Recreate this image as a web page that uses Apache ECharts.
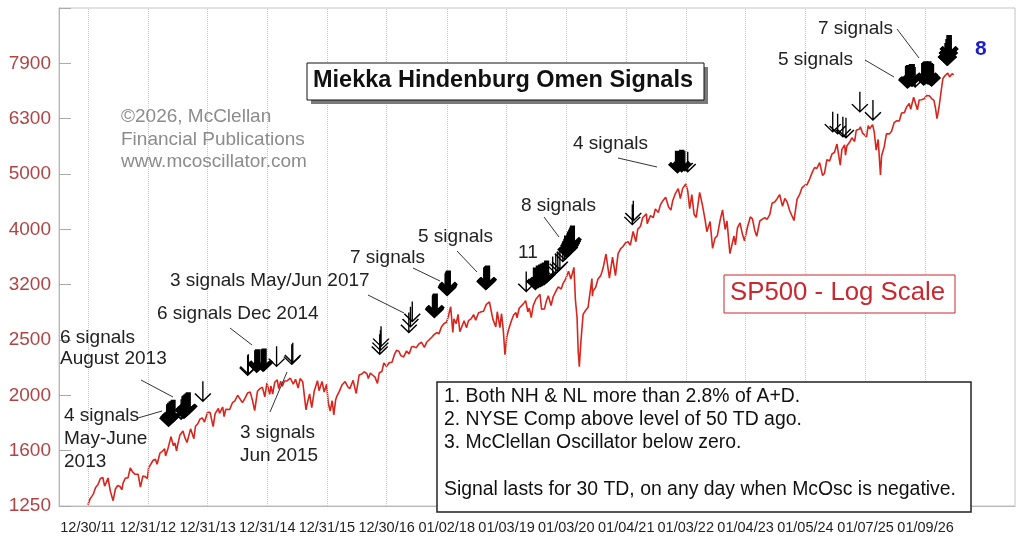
<!DOCTYPE html>
<html>
<head>
<meta charset="utf-8">
<script src="https://cdn.jsdelivr.net/npm/echarts@6/dist/echarts.min.js"></script>
<style>
html,body{margin:0;padding:0;background:#fff;}
#chart{width:1024px;height:539px;}
</style>
</head>
<body>
<div id="chart"></div>
<script>
// x axis label dates and texts
var axisDates = ['2011-12-30','2012-12-31','2013-12-31','2014-12-31','2015-12-31','2016-12-30','2018-01-02','2019-01-03',
	'2020-01-03','2021-01-04','2022-01-03','2023-01-04','2024-01-05','2025-01-07','2026-01-09'];
var axisLabels = ['12/30/11','12/31/12','12/31/13','12/31/14','12/31/15','12/30/16','01/02/18','01/03/19',
	'01/03/20','01/04/21','01/03/22','01/04/23','01/05/24','01/07/25','01/09/26'];
// log scale ticks, each one a third of an octave above the last
var yTickLabels = ['1250','1600','2000','2500','3200','4000','5000','6300','7900'];

// SP500
var spxDates = [
	'2011-12-30','2012-01-13','2012-01-31','2012-02-15','2012-02-29','2012-03-15','2012-03-30','2012-04-10','2012-04-20','2012-05-01',
	'2012-05-15','2012-06-01','2012-06-15','2012-06-29','2012-07-13','2012-07-25','2012-08-01','2012-08-15','2012-08-31','2012-09-14',
	'2012-09-28','2012-10-12','2012-10-19','2012-11-01','2012-11-15','2012-11-30','2012-12-14','2012-12-28','2013-01-04','2013-01-15',
	'2013-02-01','2013-02-15','2013-02-25','2013-03-15','2013-03-28','2013-04-12','2013-04-18','2013-05-01','2013-05-21','2013-06-05',
	'2013-06-14','2013-06-24','2013-07-01','2013-07-15','2013-08-02','2013-08-15','2013-08-27','2013-09-18','2013-10-08','2013-10-18',
	'2013-11-01','2013-11-15','2013-11-29','2013-12-12','2013-12-31','2014-01-15','2014-02-03','2014-02-15','2014-03-07','2014-03-14',
	'2014-04-02','2014-04-11','2014-04-21','2014-05-01','2014-05-15','2014-06-01','2014-06-15','2014-07-03','2014-07-15','2014-08-01',
	'2014-08-07','2014-08-15','2014-09-01','2014-09-18','2014-10-01','2014-10-15','2014-11-01','2014-11-15','2014-12-01','2014-12-16',
	'2014-12-29','2015-01-15','2015-01-22','2015-02-02','2015-02-15','2015-03-02','2015-03-11','2015-03-23','2015-04-01','2015-04-15',
	'2015-05-01','2015-05-21','2015-06-08','2015-06-22','2015-07-08','2015-07-20','2015-08-05','2015-08-17','2015-08-25','2015-09-01',
	'2015-09-16','2015-09-29','2015-10-15','2015-11-03','2015-11-13','2015-12-01','2015-12-14','2015-12-29','2016-01-08','2016-01-20',
	'2016-02-01','2016-02-11','2016-02-22','2016-03-01','2016-03-15','2016-04-01','2016-04-20','2016-05-06','2016-05-19','2016-06-08',
	'2016-06-27','2016-07-15','2016-08-01','2016-08-15','2016-09-01','2016-09-09','2016-09-22','2016-10-05','2016-10-20','2016-11-04',
	'2016-11-15','2016-12-01','2016-12-13','2016-12-30','2017-01-15','2017-02-01','2017-02-15','2017-03-01','2017-03-15','2017-03-27',
	'2017-04-13','2017-05-01','2017-05-17','2017-06-01','2017-06-15','2017-06-29','2017-07-15','2017-08-01','2017-08-18','2017-09-01',
	'2017-09-15','2017-10-02','2017-10-16','2017-11-01','2017-11-15','2017-12-01','2017-12-15','2018-01-02','2018-01-15','2018-01-26',
	'2018-02-08','2018-02-15','2018-03-01','2018-03-12','2018-03-23','2018-04-02','2018-04-18','2018-05-03','2018-05-15','2018-06-01',
	'2018-06-15','2018-06-28','2018-07-15','2018-08-01','2018-08-15','2018-09-01','2018-09-20','2018-10-01','2018-10-11','2018-10-29',
	'2018-11-07','2018-11-23','2018-12-03','2018-12-14','2018-12-24','2019-01-04','2019-01-15','2019-02-01','2019-02-15','2019-03-01',
	'2019-03-08','2019-03-21','2019-04-01','2019-04-15','2019-04-30','2019-05-13','2019-05-22','2019-06-03','2019-06-15','2019-07-01',
	'2019-07-26','2019-08-05','2019-08-15','2019-08-23','2019-09-01','2019-09-15','2019-10-02','2019-10-15','2019-11-01','2019-11-15',
	'2019-12-03','2019-12-15','2019-12-31','2020-01-17','2020-01-31','2020-02-19','2020-02-28','2020-03-09','2020-03-16','2020-03-23',
	'2020-04-01','2020-04-15','2020-05-01','2020-05-15','2020-06-08','2020-06-11','2020-06-15','2020-07-01','2020-07-15','2020-08-01',
	'2020-08-15','2020-09-02','2020-09-23','2020-10-12','2020-10-30','2020-11-15','2020-12-01','2020-12-15','2021-01-01','2021-01-15',
	'2021-01-29','2021-02-15','2021-03-04','2021-03-15','2021-04-01','2021-04-15','2021-05-07','2021-05-12','2021-06-01','2021-06-18',
	'2021-07-01','2021-07-19','2021-08-01','2021-08-15','2021-09-02','2021-09-20','2021-10-04','2021-10-15','2021-11-01','2021-11-18',
	'2021-12-01','2021-12-15','2022-01-03','2022-01-15','2022-01-27','2022-02-09','2022-02-23','2022-03-08','2022-03-29','2022-04-15',
	'2022-05-01','2022-05-12','2022-05-20','2022-06-01','2022-06-16','2022-07-01','2022-07-15','2022-08-01','2022-08-16','2022-09-01',
	'2022-09-12','2022-09-30','2022-10-12','2022-10-25','2022-11-03','2022-11-15','2022-12-01','2022-12-15','2022-12-28','2023-01-15',
	'2023-02-02','2023-02-15','2023-03-01','2023-03-13','2023-04-01','2023-04-15','2023-05-01','2023-05-15','2023-06-01','2023-06-15',
	'2023-07-01','2023-07-15','2023-07-31','2023-08-18','2023-09-01','2023-09-15','2023-10-01','2023-10-27','2023-11-15','2023-12-01',
	'2023-12-15','2024-01-01','2024-01-15','2024-02-01','2024-02-15','2024-03-01','2024-03-15','2024-04-01','2024-04-19','2024-05-01',
	'2024-05-15','2024-06-01','2024-06-15','2024-07-01','2024-07-16','2024-08-05','2024-08-15','2024-09-01','2024-09-06','2024-09-15',
	'2024-10-01','2024-10-15','2024-11-01','2024-11-11','2024-12-01','2024-12-06','2024-12-20','2025-01-01','2025-01-13','2025-01-23',
	'2025-02-01','2025-02-19','2025-03-01','2025-03-13','2025-03-25','2025-04-08','2025-04-15','2025-05-01','2025-05-15','2025-06-01',
	'2025-06-15','2025-07-01','2025-07-15','2025-08-01','2025-08-15','2025-09-01','2025-09-15','2025-10-01','2025-10-10','2025-10-28',
	'2025-11-20','2025-12-01','2025-12-15','2026-01-01','2026-01-15','2026-02-01','2026-02-15','2026-03-01','2026-03-10','2026-03-20',
	'2026-04-01','2026-04-15','2026-04-25','2026-05-10','2026-05-25','2026-06-05','2026-06-20','2026-06-30'
];
var spxValues = [
	1257,1289,1312,1350,1366,1402,1408,1358,1378,1405,
	1330,1278,1342,1362,1356,1338,1375,1405,1406,1465,
	1441,1428,1433,1427,1353,1416,1413,1402,1466,1472,
	1513,1520,1488,1560,1569,1588,1541,1582,1669,1608,
	1626,1573,1614,1682,1709,1661,1630,1725,1656,1744,
	1762,1798,1806,1775,1848,1848,1741,1838,1878,1841,
	1890,1815,1871,1883,1870,1924,1937,1985,1981,1925,
	1910,1955,2003,2011,1946,1862,2018,2039,2053,1972,
	2090,1992,2063,1995,2096,2117,2040,2104,2060,2106,
	2108,2131,2080,2122,2046,2128,2099,2102,1867,1914,
	1996,1884,2023,2109,2023,2102,2012,2078,1922,1859,
	1940,1829,1945,1978,2015,2072,2102,2057,2040,2112,
	2000,2161,2170,2190,2170,2128,2177,2160,2141,2085,
	2180,2191,2271,2239,2274,2279,2349,2395,2385,2342,
	2329,2388,2357,2430,2432,2419,2459,2476,2425,2476,
	2500,2529,2557,2579,2565,2642,2675,2695,2786,2873,
	2581,2731,2677,2783,2588,2582,2708,2630,2711,2734,
	2779,2716,2798,2813,2818,2901,2930,2924,2728,2641,
	2813,2633,2790,2600,2351,2532,2610,2706,2775,2803,
	2743,2854,2867,2907,2945,2812,2856,2744,2886,2964,
	3025,2844,2847,2847,2926,3007,2887,2995,3066,3120,
	3093,3168,3231,3330,3225,3386,2954,2746,2386,2237,
	2470,2783,2830,2863,3232,3002,3066,3115,3226,3271,
	3372,3580,3237,3534,3270,3585,3662,3694,3756,3768,
	3714,3934,3768,3968,4020,4170,4232,4063,4202,4166,
	4320,4258,4395,4468,4537,4358,4300,4471,4613,4704,
	4513,4709,4796,4662,4326,4587,4225,4170,4631,4392,
	4132,3930,3901,4101,3666,3825,3863,4118,4305,3966,
	4110,3585,3577,3859,3720,3991,4076,3895,3783,3999,
	4179,4147,3951,3855,4109,4137,4167,4136,4221,4426,
	4450,4505,4589,4370,4515,4450,4288,4117,4502,4594,
	4719,4770,4783,4906,5029,5137,5117,5243,4967,5018,
	5308,5277,5431,5475,5667,5186,5543,5648,5408,5626,
	5708,5815,5728,6001,6032,6090,5930,5881,5836,6118,
	6040,6144,5954,5522,5776,4982,5396,5604,5916,5911,
	5977,6198,6244,6238,6449,6460,6615,6711,6552,6890,
	6538,6812,6816,6845,6940,6930,6850,6800,6600,6300,
	6600,7100,7450,7550,7620,7500,7600,7560
];

// Hindenburg Omen signal arrows: date, level of the arrow tip, bold or thin
var signalDates = [
	'2013-05-06','2013-05-13','2013-05-22','2013-06-03',
	'2013-07-22','2013-08-08','2013-08-14','2013-08-21','2013-08-28','2013-09-04',
	'2013-12-02',
	'2014-09-02','2014-09-06','2014-10-27','2014-11-02','2014-12-05','2014-12-12',
	'2015-02-26','2015-05-30','2015-06-05',
	'2016-11-18','2016-11-22','2016-11-26',
	'2017-05-15','2017-05-25','2017-06-05',
	'2017-10-18','2017-10-20','2017-10-24','2018-01-04','2018-01-06','2018-01-09','2018-01-12',
	'2018-08-28','2018-08-31','2018-09-03','2018-09-06','2018-09-09',
	'2019-05-03','2019-06-28','2019-07-16','2019-07-30','2019-08-10','2019-08-22','2019-09-05','2019-10-12','2019-10-31','2019-11-12','2019-11-25',
	'2019-12-13','2019-12-24','2020-01-05','2020-01-19','2020-01-23','2020-01-30','2020-02-05','2020-02-10',
	'2021-02-10','2021-02-16',
	'2021-11-13','2021-12-09','2021-12-28','2022-01-15',
	'2024-06-20','2024-07-20','2024-08-21','2024-09-09','2024-12-03','2025-02-21',
	'2025-09-20','2025-09-26','2025-10-14','2025-10-20','2025-11-06',
	'2025-12-28','2026-01-04','2026-01-10','2026-01-24','2026-01-30','2026-02-08','2026-02-15',
	'2026-05-20','2026-05-22','2026-05-24','2026-05-26','2026-05-28','2026-05-30','2026-06-01','2026-06-03'
];
var signalLevels = [
	1737,1748,1759,1770,
	1789,1796,1804,1811,1819,1826,
	1928,
	2149,2158,2177,2186,2184,2193,
	2230,2249,2265,
	2346,2385,2425,
	2570,2631,2690,
	2735,2747,2758,2999,3012,3024,3037,
	3075,3081,3088,3094,3100,
	3049,3075,3100,3113,3126,3139,3165,3245,3286,3314,3342,
	3455,3484,3513,3543,3572,3603,3633,3663,
	4031,4098,
	5007,5028,5049,5028,
	5938,5890,5817,5793,6454,6240,
	7133,7163,7193,7193,7163,
	7219,7250,7276,7250,7276,7219,7190,
	7850,7850,7850,7983,7983,7983,8118,8118
];
var signalBold = [
	1,1,1,1,
	0,1,1,1,1,1,
	0,
	0,0,1,1,1,1,
	0,0,0,
	0,0,0,
	0,0,0,
	1,1,1,1,1,1,1,
	1,1,1,1,1,
	0,1,1,1,1,1,1,0,0,0,0,
	0,0,1,1,1,1,1,1,
	0,0,
	1,1,0,0,
	0,0,0,0,0,0,
	1,1,1,1,0,
	1,1,1,1,1,1,1,
	1,1,1,1,1,1,1,1
];

var BASE = 1250, STEP = Math.LN2 / 3;
function logUnit(v){ return Math.log(v / BASE) / STEP; }
function ts(d){ return new Date(d + 'T00:00:00Z').getTime(); }

var labelByTime = {};
axisDates.forEach(function(d, i){ labelByTime[ts(d)] = axisLabels[i]; });

var lineData = spxDates.map(function(d, i){ return [ts(d), logUnit(spxValues[i])]; });
var boldData = [], thinData = [];
signalDates.forEach(function(d, i){
	var p = [ts(d), logUnit(signalLevels[i])];
	if (signalBold[i]) boldData.push(p); else thinData.push(p);
});

// arrow glyphs, tip at the bottom centre
var thinArrow = 'path://M9.2,0 L10.8,0 L10.8,26 L9.2,26 Z M10,28 L0,17 L1.3,15.8 L10,25.5 L18.7,15.8 L20,17 Z';
var boldArrow = 'path://M7.3,0 L12.7,0 L12.7,21 L7.3,21 Z M10,28 L0,17 L3.2,13.6 L10,21 L16.8,13.6 L20,17 Z';

var FONT = 'Arial, "Liberation Sans", sans-serif';
function note(x, y, s, extra){
	var st = {text: s, font: '19px ' + FONT, fill: '#222', lineHeight: 23};
	for (var k in extra) st[k] = extra[k];
	return {type: 'text', left: x, top: y, z: 110, style: st};
}
function leader(x1, y1, x2, y2){
	return {type: 'line', z: 110, shape: {x1: x1, y1: y1, x2: x2, y2: y2}, style: {stroke: '#333', lineWidth: 1}};
}

var chart = echarts.init(document.getElementById('chart'));
var option = {
	backgroundColor: '#fff',
	animation: false,
	grid: {left: 59, right: 9, top: 8, bottom: 33, show: true, borderColor: '#c4c4c4', borderWidth: 1},
	xAxis: {
		type: 'value',
		min: ts('2011-07-06'),
		max: ts('2027-07-10'),
		axisLine: {lineStyle: {color: '#b8b8b8'}},
		axisTick: {show: false},
		splitLine: {show: false},
		axisLabel: {
			customValues: axisDates.map(ts),
			formatter: function(v){ return labelByTime[v] || ''; },
			color: '#222', fontSize: 14.5, fontFamily: FONT, margin: 14
		}
	},
	yAxis: {
		type: 'value',
		min: 0, max: 9, interval: 1,
		axisLine: {show: true, lineStyle: {color: '#b8b8b8'}},
		axisTick: {show: true, inside: true, length: 12, lineStyle: {color: '#aaa'}},
		splitLine: {show: false},
		axisLabel: {
			formatter: function(v){ return yTickLabels[v] || ''; },
			color: '#b04444', fontSize: 19, fontFamily: FONT, margin: 8
		}
	},
	series: [
		{
			type: 'line', data: [], z: 1, silent: true,
			markLine: {
				silent: true, symbol: ['none', 'none'], label: {show: false},
				lineStyle: {type: 'dotted', color: '#c6c6c6', width: 1},
				data: axisDates.map(function(d){ return {xAxis: ts(d)}; })
			}
		},
		{
			type: 'line', data: lineData, z: 3, showSymbol: false, silent: true,
			lineStyle: {color: '#d8261e', width: 1.6}
		},
		{
			type: 'scatter', data: thinData, z: 5, silent: true,
			symbol: thinArrow, symbolSize: [17, 21], symbolOffset: [0, '-50%'],
			itemStyle: {color: '#000', opacity: 1}
		},
		{
			type: 'scatter', data: boldData, z: 6, silent: true,
			symbol: boldArrow, symbolSize: [19, 23], symbolOffset: [0, '-50%'],
			itemStyle: {color: '#000', opacity: 1}
		}
	],
	graphic: [
		// title box with shadow
		{type: 'rect', z: 100, shape: {x: 311, y: 67, width: 397, height: 37}, style: {fill: '#7a7a7a'}},
		{type: 'rect', z: 101, shape: {x: 307, y: 63, width: 397, height: 37}, style: {fill: '#fff', stroke: '#111', lineWidth: 1}},
		{type: 'text', left: 313, top: 69, z: 102, style: {text: 'Miekka Hindenburg Omen Signals', font: 'bold 23.5px ' + FONT, fill: '#111'}},
		// copyright
		note(121, 106, '\u00a92026, McClellan\nFinancial Publications\nwww.mcoscillator.com', {fill: '#8c8c8c', lineHeight: 22.5}),
		// SP500 label box
		{type: 'rect', z: 100, shape: {x: 724, y: 275, width: 231, height: 38}, style: {fill: '#fff', stroke: '#c8282e', lineWidth: 1}},
		{type: 'text', left: 730, top: 280, z: 101, style: {text: 'SP500 - Log Scale', font: '25.8px ' + FONT, fill: '#c8282e'}},
		// rules box
		{type: 'rect', z: 100, shape: {x: 437, y: 382, width: 534, height: 130}, style: {fill: '#fff', stroke: '#222', lineWidth: 1.5}},
		note(444, 385, '1. Both NH & NL more than 2.8% of A+D.\n2. NYSE Comp above level of 50 TD ago.\n3. McClellan Oscillator below zero.\n\nSignal lasts for 30 TD, on any day when McOsc is negative.', {font: '19.4px ' + FONT, fill: '#111', lineHeight: 23.2}),
		// signal notes
		note(64, 404, '4 signals\nMay-June\n2013'),
		note(60, 327, '6 signals\nAugust 2013', {lineHeight: 21}),
		note(157, 302, '6 signals Dec 2014'),
		note(170, 269, '3 signals May/Jun 2017'),
		note(240, 421, '3 signals\nJun 2015'),
		note(350, 246, '7 signals'),
		note(418, 225, '5 signals'),
		note(518, 241, '11'),
		note(521, 194, '8 signals'),
		note(573, 132, '4 signals'),
		note(778, 48, '5 signals'),
		note(818, 17, '7 signals'),
		note(975, 38, '8', {font: 'bold 21px ' + FONT, fill: '#1e1ec8'}),
		leader(138, 418, 162, 411),
		leader(141, 380, 173, 397),
		leader(230, 328, 252, 345),
		leader(270, 412, 287, 372),
		leader(368, 295, 404, 313),
		leader(413, 268, 440, 281),
		leader(457, 251, 477, 272),
		leader(544, 217, 559, 237),
		leader(618, 158, 657, 167),
		leader(865, 60, 894, 77),
		leader(897, 29, 919, 58)
	]
};
chart.setOption(option);
</script>
</body>
</html>
